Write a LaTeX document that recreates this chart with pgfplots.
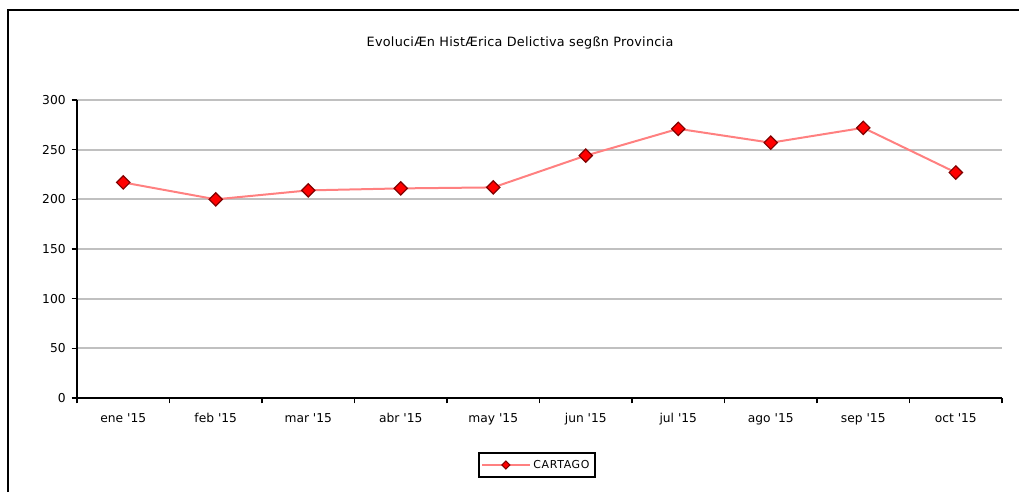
\documentclass[border=0pt]{standalone}
\usepackage{fontspec}
\setmainfont{DejaVu Sans}
\usepackage{pgfplots}
\pgfplotsset{compat=1.18}

\definecolor{seriesline}{HTML}{FF8080}
\definecolor{markfill}{HTML}{FF0000}
\definecolor{markdraw}{HTML}{800000}
\definecolor{gridgray}{HTML}{C0C0C0}

\newcommand{\q}{\textquotesingle}

\begin{document}
\begin{tikzpicture}
\useasboundingbox (0pt,0pt) rectangle (764.25pt,369pt);
% outer chart frame (top and left edges)
\draw[black, line width=1.5pt] (6pt,0pt) -- (6pt,361.5pt) -- (764.25pt,361.5pt);
% title
\node[font=\fontsize{9.6}{11}\selectfont\addfontfeatures{LetterSpace=2}] at (390pt,336.5pt)
  {EvoluciÆn HistÆrica Delictiva segßn Provincia};
\begin{axis}[
  at={(57.75pt,70.5pt)}, anchor=south west,
  scale only axis,
  width=693.75pt, height=223.5pt,
  xmin=-0.5, xmax=9.5,
  ymin=0, ymax=300,
  ytick={0,50,...,300},
  xtick={0,...,9},
  xticklabels={ene \q15,feb \q15,mar \q15,abr \q15,may \q15,jun \q15,jul \q15,ago \q15,sep \q15,oct \q15},
  minor xtick={-0.5,0.5,...,9.5},
  major x tick style={draw=none},
  minor x tick style={black, line width=1.2pt},
  minor tick length=4pt,
  major tick length=4pt,
  ytick style={black, line width=1.2pt},
  tick align=outside,
  axis x line*=bottom, axis y line*=left,
  axis line style={black, line width=1.5pt, -},
  ymajorgrids,
  major grid style={gridgray, line width=1.5pt},
  tick label style={font=\fontsize{9.2}{11}\selectfont},
  /pgf/number format/assume math mode=true,
  xticklabel style={yshift=-4pt},
  yticklabel style={xshift=-1pt},
  clip=false,
  legend style={at={(0.497,-0.225)}, anchor=center, draw=black, line width=1.5pt,
    font=\fontsize{8.2}{10}\selectfont\addfontfeatures{LetterSpace=6},
    inner xsep=2pt, inner ysep=3.5pt,
    legend cell align=left},
  legend image code/.code={
    \draw[seriesline, line width=1.5pt] (0cm,0cm) -- (1.25cm,0cm);
    \draw[markdraw, fill=markfill, line width=0.8pt] (0.62cm,0cm) +(-3pt,0) -- +(0,3pt) -- +(3pt,0) -- +(0,-3pt) -- cycle;
  },
]
\addplot[seriesline, line width=1.5pt, mark=diamond*, mark size=5pt,
  mark options={draw=markdraw, fill=markfill, line width=0.9pt, xscale=1.333}]
  coordinates {(0,217) (1,200) (2,209) (3,211) (4,212) (5,244) (6,271) (7,257) (8,272) (9,227)};
\addlegendentry{CARTAGO}
\end{axis}
\end{tikzpicture}
\end{document}
